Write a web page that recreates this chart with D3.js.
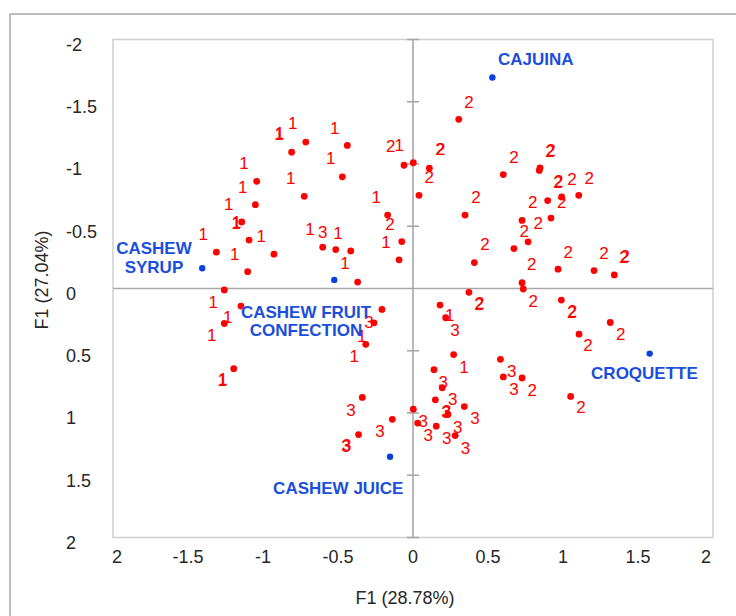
<!DOCTYPE html>
<html lang="en">
<head>
  <meta charset="UTF-8" />
  <title>F1 x F1 observation map</title>
  <script src="https://d3js.org/d3.v7.min.js"></script>
  <style>
    html, body { margin: 0; padding: 0; background: #fff; }
    svg { display: block; }
  </style>
</head>
<body>
  <script>
    // ----------------------------
    // Data (axis units)
    // ----------------------------
    const xTicks = [-2, -1.5, -1, -0.5, 0, 0.5, 1, 1.5, 2];
    const xTickLabels = ["2", "-1.5", "-1", "-0.5", "0", "0.5", "1", "1.5", "2"];
    const yTicks = [-2, -1.5, -1, -0.5, 0, 0.5, 1, 1.5, 2];
    const yTickLabels = ["-2", "-1.5", "-1", "-0.5", "0", "0.5", "1", "1.5", "2"];

    // observations (red dots)
    const obsX = [
      -0.715, -0.809, -1.042, -1.051, -0.725, -1.142, -1.093, -1.311, -0.927, -1.102,
      -1.258, -0.438, -0.471, -0.602, -0.515, -0.415, -0.369, -1.147, -1.258, -1.195,
      -0.169, -0.075, -0.093, -0.060, 0.002, 0.109, 0.040, -0.207, -0.260, -0.315,
      0.305, 0.347, 0.409, 0.373, 0.602, 0.847, 0.842, 0.898, 0.991, 1.105,
      0.727, 0.920, 0.767, 0.673, 0.967, 1.207, 1.342, 0.727, 0.735, 0.989,
      1.315, 1.107, 0.180, 0.218, 0.271, 0.583, 0.602, 0.727, 1.051, 0.140,
      0.195, -0.338, 0.149, 0.342, 0.002, 0.233, -0.138, 0.031, 0.155, -0.363,
      0.281
    ];
    const obsY = [
      -1.176, -1.095, -0.861, -0.673, -0.740, -0.534, -0.389, -0.292, -0.276, -0.135,
      0.012, -1.149, -0.897, -0.332, -0.313, -0.302, -0.052, 0.141, 0.281, 0.644,
      -0.590, -0.377, -0.230, -0.990, -1.010, -0.966, -0.748, 0.168, 0.276, 0.448,
      -1.359, -0.590, -0.208, 0.031, -0.915, -0.969, -0.948, -0.706, -0.735, -0.748,
      -0.547, -0.566, -0.375, -0.321, -0.155, -0.144, -0.109, -0.047, 0.004, 0.093,
      0.273, 0.367, 0.133, 0.235, 0.531, 0.569, 0.710, 0.719, 0.867, 0.652,
      0.797, 0.875, 0.894, 0.948, 0.969, 1.012, 1.051, 1.081, 1.106, 1.173,
      1.181
    ];

    // observation labels: [x, y] of each number, per group
    const labels1 = [
      [-0.802, -1.327], [-0.893, -1.244], [-0.888, -1.252], [-1.127, -1.010], [-0.815, -0.891],
      [-1.135, -0.816], [-1.229, -0.681], [-1.180, -0.526], [-1.175, -0.533], [-0.687, -0.480],
      [-1.398, -0.440], [-1.011, -0.418], [-1.189, -0.278], [-1.331, 0.111], [-1.235, 0.227],
      [-1.342, 0.375], [-1.271, 0.738], [-1.266, 0.731], [-0.522, -1.292], [-0.091, -1.152],
      [-0.549, -1.044], [-0.245, -0.732], [-0.500, -0.445], [-0.180, -0.377], [-0.453, -0.203],
      [0.245, 0.214], [-0.342, 0.383], [-0.391, 0.542], [0.340, 0.631]
    ];
    const labels2 = [
      [0.373, -1.496], [-0.149, -1.144], [0.180, -1.117], [0.185, -1.124], [0.109, -0.897],
      [0.420, -0.732], [-0.153, -0.518], [0.480, -0.359], [0.673, -1.058], [0.913, -1.103],
      [0.920, -1.112], [0.967, -0.853], [0.972, -0.860], [1.060, -0.883], [1.175, -0.889],
      [0.798, -0.695], [0.991, -0.695], [0.835, -0.526], [0.742, -0.458], [1.035, -0.294],
      [0.791, -0.198], [1.273, -0.284], [1.407, -0.256], [1.415, -0.264], [0.440, 0.127],
      [0.445, 0.120], [0.802, 0.101], [1.058, 0.192], [1.063, 0.185], [1.385, 0.367],
      [1.167, 0.456], [0.795, 0.819], [1.120, 0.956]
    ];
    const labels3 = [
      [-0.602, -0.456], [-0.293, 0.273], [0.280, 0.335], [0.202, 0.750], [0.265, 0.891],
      [0.220, 0.990], [0.225, 0.982], [0.413, 1.039], [-0.413, 0.980], [0.069, 1.065],
      [0.298, 1.110], [-0.220, 1.143], [0.102, 1.178], [0.225, 1.200], [-0.447, 1.266],
      [-0.442, 1.258], [0.350, 1.282], [0.658, 0.665], [0.673, 0.809]
    ];

    // products (blue dots) and their name blocks
    const products = [["CAJUINA"], ["CASHEW", "SYRUP"], ["CASHEW FRUIT", "CONFECTION"], ["CROQUETTE"], ["CASHEW JUICE"]];
    const productX = [0.529, -1.405, -0.525, 1.578, -0.153];
    const productY = [-1.695, -0.163, -0.069, 0.523, 1.351];
    const productLabelX = [0.818, -1.727, -0.713, 1.543, -0.498];
    const productLabelY = [-1.843, -0.249, 0.261, 0.679, 1.603];

    // ----------------------------
    // Set up
    // ----------------------------
    const width = 736, height = 616;
    const font = "'Liberation Sans', Arial, sans-serif";
    const red = "#ff0000", blue = "#1b4fdb";

    const svg = d3.select("body").append("svg")
      .attr("width", width)
      .attr("height", height);

    const x = d3.scaleLinear().domain([-2, 2]).range([113, 713]);
    const y = d3.scaleLinear().domain([-2, 2]).range([39.5, 537.5]);

    // outer border of the figure
    svg.append("path")
      .attr("d", `M10,${height} V14 H${width}`)
      .attr("fill", "none")
      .attr("stroke", "#7a7a7a")
      .attr("stroke-width", 1);

    // plot frame
    svg.append("rect")
      .attr("x", x(-2)).attr("y", y(-2))
      .attr("width", x(2) - x(-2)).attr("height", y(2) - y(-2))
      .attr("fill", "none")
      .attr("stroke", "#cfcfcf")
      .attr("stroke-width", 1.5);

    // zero lines
    svg.append("line")
      .attr("x1", x(-2)).attr("x2", x(2))
      .attr("y1", y(0)).attr("y2", y(0))
      .attr("stroke", "#a8a8a8").attr("stroke-width", 1.6);
    svg.append("line")
      .attr("x1", x(0)).attr("x2", x(0))
      .attr("y1", y(-2)).attr("y2", y(2))
      .attr("stroke", "#a8a8a8").attr("stroke-width", 1.6);

    // small ticks on the vertical zero line
    svg.append("g").selectAll("line")
      .data(yTicks.filter(d => d !== 0))
      .join("line")
      .attr("x1", x(0) - 6).attr("x2", x(0) + 6)
      .attr("y1", d => y(d)).attr("y2", d => y(d))
      .attr("stroke", "#a8a8a8").attr("stroke-width", 1.6);

    // tick labels
    svg.append("g").selectAll("text")
      .data(yTicks)
      .join("text")
      .attr("x", 66)
      .attr("y", d => y(d) + 5)
      .attr("dy", "0.35em")
      .attr("font-family", font)
      .attr("font-size", 18)
      .attr("fill", "#262626")
      .text((d, i) => yTickLabels[i]);

    svg.append("g").selectAll("text")
      .data(xTicks)
      .join("text")
      .attr("x", d => Math.max(117, Math.min(706, x(d))))
      .attr("y", 557)
      .attr("dy", "0.35em")
      .attr("text-anchor", "middle")
      .attr("font-family", font)
      .attr("font-size", 18)
      .attr("fill", "#262626")
      .text((d, i) => xTickLabels[i]);

    // axis titles
    svg.append("text")
      .attr("x", 405).attr("y", 598)
      .attr("dy", "0.35em")
      .attr("text-anchor", "middle")
      .attr("font-family", font)
      .attr("font-size", 18)
      .attr("fill", "#262626")
      .text("F1 (28.78%)");

    svg.append("text")
      .attr("transform", "translate(42,280) rotate(-90)")
      .attr("dy", "0.35em")
      .attr("text-anchor", "middle")
      .attr("font-family", font)
      .attr("font-size", 18)
      .attr("fill", "#262626")
      .text("F1 (27.04%)");

    // ----------------------------
    // Observations
    // ----------------------------
    const obs = obsX.map((v, i) => [v, obsY[i]]);
    svg.append("g").selectAll("circle")
      .data(obs)
      .join("circle")
      .attr("cx", d => x(d[0]))
      .attr("cy", d => y(d[1]))
      .attr("r", 3.4)
      .attr("fill", red);

    const numberLabels = [
      ...labels1.map(d => [d[0], d[1], "1"]),
      ...labels2.map(d => [d[0], d[1], "2"]),
      ...labels3.map(d => [d[0], d[1], "3"])
    ];
    svg.append("g").selectAll("text")
      .data(numberLabels)
      .join("text")
      .attr("x", d => x(d[0]))
      .attr("y", d => y(d[1]))
      .attr("dy", "0.35em")
      .attr("text-anchor", "middle")
      .attr("font-family", font)
      .attr("font-size", 17)
      .attr("fill", red)
      .text(d => d[2]);

    // ----------------------------
    // Products
    // ----------------------------
    svg.append("g").selectAll("circle")
      .data(products)
      .join("circle")
      .attr("cx", (d, i) => x(productX[i]))
      .attr("cy", (d, i) => y(productY[i]))
      .attr("r", 3.2)
      .attr("fill", "#0a3fe0");

    const productText = svg.append("g").selectAll("text")
      .data(products)
      .join("text")
      .attr("x", (d, i) => x(productLabelX[i]))
      .attr("y", (d, i) => y(productLabelY[i]) - (d.length - 1) * 9)
      .attr("text-anchor", "middle")
      .attr("font-family", font)
      .attr("font-size", 17)
      .attr("font-weight", "bold")
      .attr("fill", blue);

    productText.selectAll("tspan")
      .data(d => d)
      .join("tspan")
      .attr("x", function () { return this.parentNode.getAttribute("x"); })
      .attr("dy", (d, i) => i === 0 ? "0.35em" : "1.08em")
      .text(d => d);
  </script>
</body>
</html>
